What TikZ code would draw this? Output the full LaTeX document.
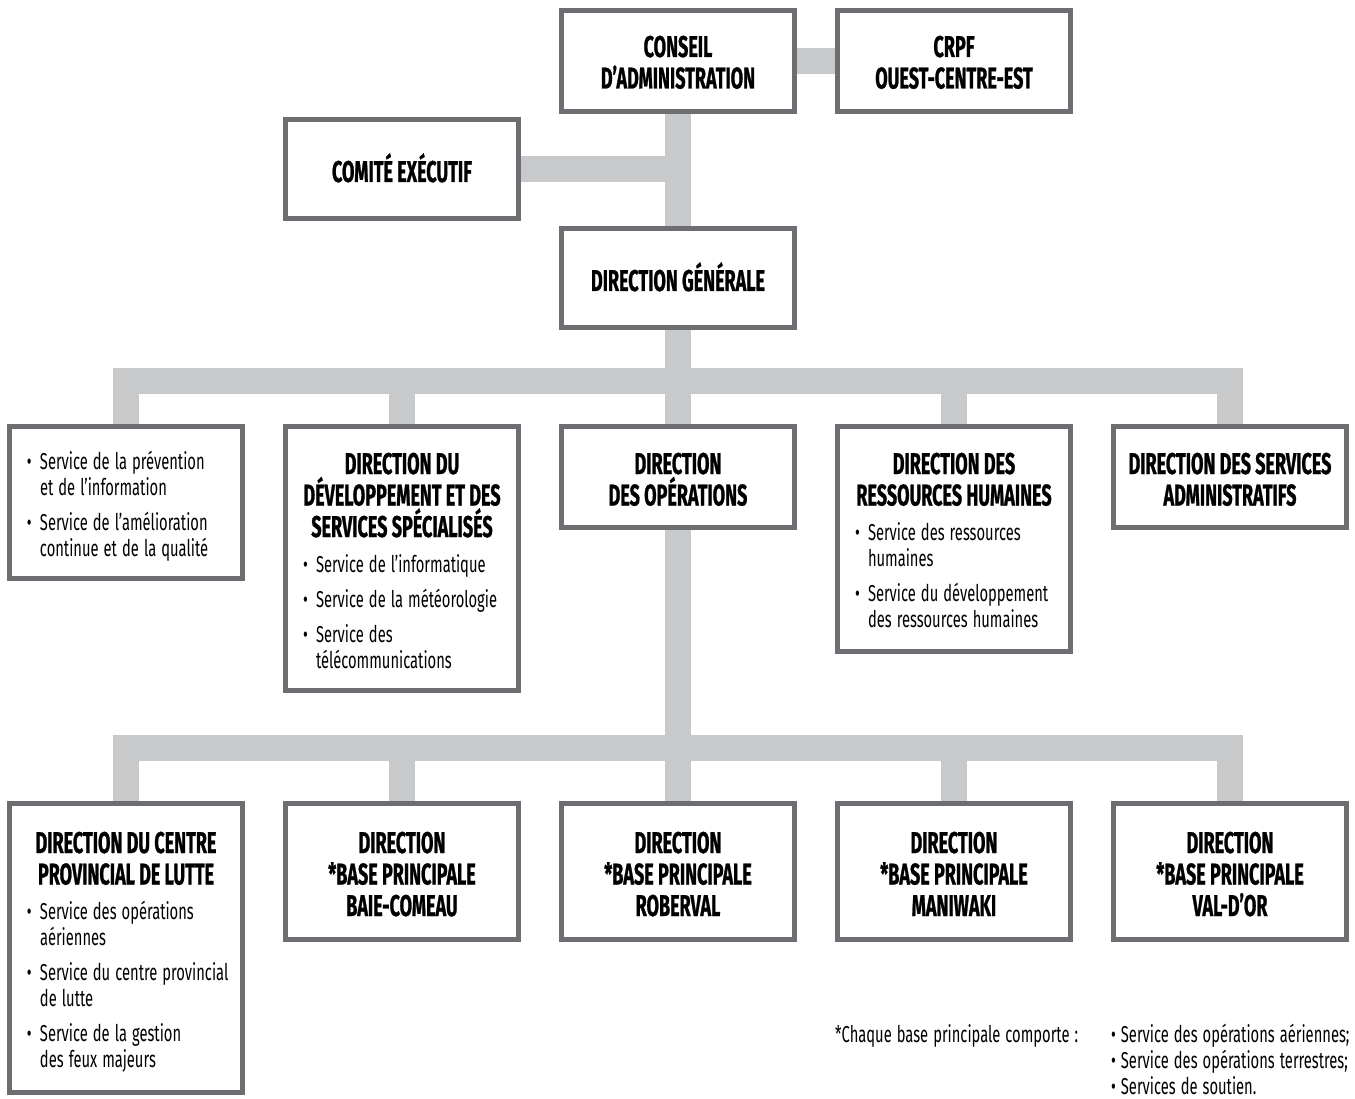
\documentclass[tikz,border=0pt]{standalone}
\usepackage{fontspec}
\setmainfont{Fira Sans}
\newfontfamily\hdfont[FakeStretch=0.6,FakeBold=0.8]{Fira Sans}
\newfontfamily\bdfont[FakeStretch=0.64,WordSpace=1.3]{Fira Sans}
\usetikzlibrary{backgrounds}
\definecolor{boxgray}{HTML}{6D6E71}
\definecolor{conngray}{HTML}{C8C9CB}
\newcommand\hdtext{\hdfont\bfseries\fontsize{30}{31.5}\selectfont}
\newcommand\bdtext{\bdfont\fontsize{23}{26}\selectfont}
\newcommand\itm[1]{\hangindent=28pt\hangafter=1\noindent\hspace*{15pt}\makebox[13pt][l]{\textbullet}#1\par}
\newcommand\gap{\vspace{9pt}}
\tikzset{
  box/.style={draw=boxgray, line width=5pt, fill=white, inner sep=0pt, minimum width=233pt, align=center, font=\hdtext},
  conn/.style={draw=conngray, line width=26pt},
  content/.style={text width=228pt, inner sep=0pt, align=flush left, anchor=base, font=\bdtext},
  note/.style={inner sep=0pt, anchor=base west, font=\bdtext, align=flush left}
}
\begin{document}
\begin{tikzpicture}[x=1pt,y=-1pt]
\useasboundingbox (0,0) rectangle (1355,1099);
% top
\node[box, minimum height=101pt] (conseil) at (678,61) {};
\node[box, minimum height=101pt] (crpf) at (954,61) {};
\node[box, minimum height=99pt] (comite) at (402,169) {};
\node[box, minimum height=99pt] (dg) at (678,278) {};
% row 2
\node[box, minimum height=152pt] (svc) at (126,502.5) {};
\node[box, minimum height=264pt] (ddss) at (402,558.5) {};
\node[box, minimum height=101pt] (ops) at (678,477) {};
\node[box, minimum height=225pt] (drh) at (954,539) {};
\node[box, minimum height=101pt] (dsa) at (1230,477) {};
% row 3
\node[box, minimum height=289pt] (cpl) at (126,948) {};
\node[box, minimum height=136pt] (bc) at (402,871.5) {};
\node[box, minimum height=136pt] (rob) at (678,871.5) {};
\node[box, minimum height=136pt] (man) at (954,871.5) {};
\node[box, minimum height=136pt] (vd) at (1230,871.5) {};
% contents
\node[content] (conseilt) at (678,57) {\parindent=0pt%
{\hdtext\centering CONSEIL\par D’ADMINISTRATION\par}};
\node[content] (crpft) at (954,57) {\parindent=0pt%
{\hdtext\centering CRPF\par OUEST-CENTRE-EST\par}};
\node[content] (comitet) at (402,182) {\parindent=0pt%
{\hdtext\centering COMITÉ EXÉCUTIF\par}};
\node[content] (dgt) at (678,291) {\parindent=0pt%
{\hdtext\centering DIRECTION GÉNÉRALE\par}};
\node[content] (svct) at (126,469) {\parindent=0pt%
\itm{Service de la prévention\newline et de l’information}\gap
\itm{Service de l’amélioration\newline continue et de la qualité}};
\node[content] (ddsst) at (402,474) {\parindent=0pt%
{\hdtext\centering DIRECTION DU\par DÉVELOPPEMENT ET DES\par SERVICES SPÉCIALISÉS\par}\gap
\itm{Service de l’informatique}\gap
\itm{Service de la météorologie}\gap
\itm{Service des\newline télécommunications}};
\node[content] (opst) at (678,474) {\parindent=0pt%
{\hdtext\centering DIRECTION\par DES OPÉRATIONS\par}};
\node[content] (drht) at (954,474) {\parindent=0pt%
{\hdtext\centering DIRECTION DES\par RESSOURCES HUMAINES\par}\gap
\itm{Service des ressources\newline humaines}\gap
\itm{Service du développement\newline des ressources humaines}};
\node[content] (dsat) at (1230,474) {\parindent=0pt%
{\hdtext\centering DIRECTION DES SERVICES\par ADMINISTRATIFS\par}};
\node[content] (cplt) at (126,853) {\parindent=0pt%
{\hdtext\centering DIRECTION DU CENTRE\par PROVINCIAL DE LUTTE\par}\gap
\itm{Service des opérations\newline aériennes}\gap
\itm{Service du centre provincial\newline de lutte}\gap
\itm{Service de la gestion\newline des feux majeurs}};
\node[content] (bct) at (402,853) {\parindent=0pt%
{\hdtext\centering DIRECTION\par *BASE PRINCIPALE\par BAIE-COMEAU\par}};
\node[content] (robt) at (678,853) {\parindent=0pt%
{\hdtext\centering DIRECTION\par *BASE PRINCIPALE\par ROBERVAL\par}};
\node[content] (mant) at (954,853) {\parindent=0pt%
{\hdtext\centering DIRECTION\par *BASE PRINCIPALE\par MANIWAKI\par}};
\node[content] (vdt) at (1230,853) {\parindent=0pt%
{\hdtext\centering DIRECTION\par *BASE PRINCIPALE\par VAL-D’OR\par}};
% footnote
\node[note] (fn) at (835,1042) {*Chaque base principale comporte :};
\node[note, text width=243pt] (fnl) at (1111,1042) {\parindent=0pt%
\textbullet\hspace{5pt}Service des opérations aériennes;\par
\textbullet\hspace{5pt}Service des opérations terrestres;\par
\textbullet\hspace{5pt}Services de soutien.\par};
% connectors
\coordinate (bus1) at (678,381);
\coordinate (bus2) at (678,748);
\begin{scope}[on background layer]
\draw[conn] (conseil.east) -- (crpf.west);
\draw[conn] (conseil.south) -- (dg.north);
\draw[conn] (comite.east) -- (comite.east -| conseil.south);
\draw[conn] (dg.south) -- (ops.north);
\foreach \n in {svc,ddss,drh,dsa} \draw[conn] (\n.north) |- (bus1);
\draw[conn] (ops.south) -- (rob.north);
\foreach \n in {cpl,bc,man,vd} \draw[conn] (\n.north) |- (bus2);
\end{scope}
\end{tikzpicture}
\end{document}
